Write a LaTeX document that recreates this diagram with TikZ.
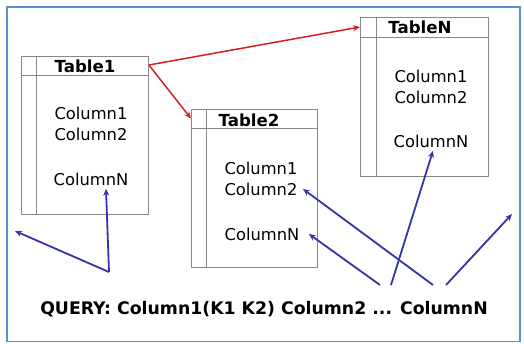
\documentclass[tikz,border=0pt]{standalone}
\usepackage{fontspec}
\setmainfont{DejaVu Sans}
\usetikzlibrary{arrows.meta, positioning}
\definecolor{framebl}{HTML}{5B8FD0}
\definecolor{linkred}{HTML}{D42020}
\definecolor{qblue}{HTML}{3434A8}
\definecolor{gridgr}{HTML}{888888}
\tikzset {
    x=1pt, y=-1pt,
    >={Stealth[length=7pt, width=6pt]},
    tbl/.style={draw=gridgr, line width=0.9pt, anchor=north west, inner sep=0pt},
    rule/.style={draw=gridgr, line width=0.9pt},
    title/.style={anchor=base, font=\fontsize{16.6}{18}\selectfont\bfseries},
    col/.style={anchor=base, font=\fontsize{16.3}{18}\selectfont},
    link/.style={->, draw=linkred, line width=1.5pt},
    ref/.style={->, draw=qblue, line width=1.8pt}
}

\begin{document}
\begin{tikzpicture}
    \useasboundingbox (0,0) rectangle (524,343);
    \draw[framebl, line width=1.8pt] (7,7) rectangle (520,341.5);

    % tables
    \node[tbl, minimum width=127pt, minimum height=158pt] (t1) at (21,56) {};
    \draw[rule] ([yshift=-19pt]t1.north west) -- ([yshift=-19pt]t1.north east);
    \draw[rule] ([xshift=15pt]t1.north west) -- ([xshift=15pt]t1.south west);
    \node[title] (t1h) at (85,72) {Table1};
    \node[col] (t1c1) at (91,119) {Column1};
    \node[col] (t1c2) at (91,140) {Column2};
    \node[col] (t1cN) at (91,185) {ColumnN};

    \node[tbl, minimum width=126pt, minimum height=158pt] (t2) at (191,109) {};
    \draw[rule] ([yshift=-19pt]t2.north west) -- ([yshift=-19pt]t2.north east);
    \draw[rule] ([xshift=15pt]t2.north west) -- ([xshift=15pt]t2.south west);
    \node[title] (t2h) at (249,126) {Table2};
    \node[col] (t2c1) at (261,174) {Column1};
    \node[col] (t2c2) at (261,195) {Column2};
    \node[col] (t2cN) at (262,240) {ColumnN};

    \node[tbl, minimum width=128pt, minimum height=159pt] (tN) at (360,17) {};
    \draw[rule] ([yshift=-20pt]tN.north west) -- ([yshift=-20pt]tN.north east);
    \draw[rule] ([xshift=16pt]tN.north west) -- ([xshift=16pt]tN.south west);
    \node[title] (tNh) at (420,33) {TableN};
    \node[col] (tNc1) at (431,82) {Column1};
    \node[col] (tNc2) at (431,103) {Column2};
    \node[col] (tNcN) at (431,147) {ColumnN};

    % links between tables
    \draw[link] ([yshift=-9pt]t1.north east) -- ([yshift=-9.5pt]t2.north west);
    \draw[link] ([yshift=-9pt]t1.north east) -- ([yshift=-10pt]tN.north west);

    % query
    \node[anchor=base, font=\fontsize{17.3}{19}\selectfont\bfseries] (q) at (264,314)
        {QUERY: Column1(K1 K2) Column2 ... ColumnN};
    \coordinate (a1) at (109,272);
    \coordinate (a2) at (380,285);
    \coordinate (a3) at (391,285);
    \coordinate (a4) at (433,285);
    \coordinate (a5) at (446,285);
    \coordinate (e1) at (15,231);
    \coordinate (e2) at (512,214);

    \draw[ref] (a1) -- (e1);
    \draw[ref] (a1) -- ([xshift=15pt]t1cN.south);
    \draw[ref] (a2) -- ([xshift=6pt]t2cN.east);
    \draw[ref] (a3) -- ([xshift=2pt]tNcN.south);
    \draw[ref] (a4) -- ([xshift=2pt]t2c2.east);
    \draw[ref] (a5) -- (e2);
\end{tikzpicture}
\end{document}
